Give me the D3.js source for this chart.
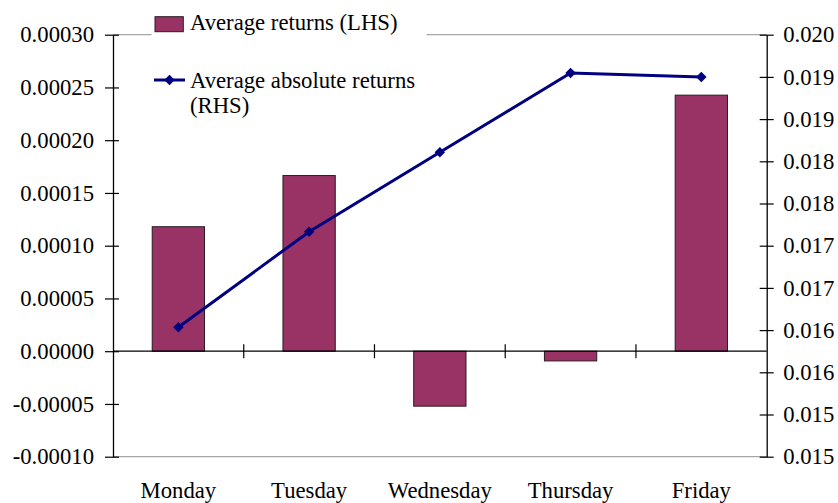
<!DOCTYPE html>
<html>
<head>
<meta charset="utf-8">
<script src="https://cdn.jsdelivr.net/npm/d3@7"></script>
<style>
  html, body { margin: 0; padding: 0; background: #fff; }
  svg { display: block; }
  text { font-family: "Liberation Serif", "Times New Roman", serif; fill: #000; }
</style>
</head>
<body>
<svg id="chart" width="838" height="503"></svg>
<script>
// ---- Data ----
const categories = ["Monday", "Tuesday", "Wednesday", "Thursday", "Friday"];
const avgReturns = [0.000118, 0.0001665, -0.0000521, -0.0000092, 0.0002427];
const avgAbsReturns = [0.016533, 0.017666, 0.018607, 0.019546, 0.019499];
const leftTicks = [-0.0001, -0.00005, 0, 0.00005, 0.0001, 0.00015, 0.0002, 0.00025, 0.0003];
const leftTickLabels = ["-0.00010", "-0.00005", "0.00000", "0.00005", "0.00010", "0.00015", "0.00020", "0.00025", "0.00030"];
const rightTicks = [0.015, 0.0155, 0.016, 0.0165, 0.017, 0.0175, 0.018, 0.0185, 0.019, 0.0195, 0.020];
const rightTickLabels = ["0.015", "0.015", "0.016", "0.016", "0.017", "0.017", "0.018", "0.018", "0.019", "0.019", "0.020"];
const legendLabels = ["Average returns (LHS)", ["Average absolute returns", "(RHS)"]];

// ---- Layout ----
const W = 838, H = 503;
const plot = { left: 113, right: 766.7, top: 34.7, bottom: 456.7 };
const fontSize = 22.7;
const barColor = "#993366";
const lineColor = "#000080";

const svg = d3.select("#chart");

const x = d3.scaleBand().domain(categories).range([plot.left, plot.right]).paddingInner(0.6).paddingOuter(0.3);
const xCat = d3.scaleBand().domain(categories).range([plot.left, plot.right]).padding(0);
const yL = d3.scaleLinear().domain([-0.0001, 0.0003]).range([plot.bottom, plot.top]);
const yR = d3.scaleLinear().domain([0.015, 0.020]).range([plot.bottom, plot.top]);

// plot area border (top/bottom grey)
svg.append("line").attr("x1", plot.left).attr("x2", plot.right).attr("y1", plot.top).attr("y2", plot.top)
  .attr("stroke", "#a6a6a6").attr("stroke-width", 1.2);
svg.append("line").attr("x1", plot.left).attr("x2", plot.right).attr("y1", plot.bottom).attr("y2", plot.bottom)
  .attr("stroke", "#a6a6a6").attr("stroke-width", 1.2);

// bars
svg.append("g").selectAll("rect").data(categories).join("rect")
  .attr("x", d => x(d))
  .attr("width", x.bandwidth())
  .attr("y", (d, i) => yL(Math.max(0, avgReturns[i])))
  .attr("height", (d, i) => Math.abs(yL(avgReturns[i]) - yL(0)))
  .attr("fill", barColor)
  .attr("stroke", "#2a1a20")
  .attr("stroke-width", 1);

// zero line with category ticks
svg.append("line").attr("x1", plot.left).attr("x2", plot.right).attr("y1", yL(0)).attr("y2", yL(0))
  .attr("stroke", "#000").attr("stroke-width", 1.3);
svg.append("g").selectAll("line").data(categories.slice(1)).join("line")
  .attr("x1", d => xCat(d)).attr("x2", d => xCat(d))
  .attr("y1", yL(0) - 7).attr("y2", yL(0) + 7)
  .attr("stroke", "#000").attr("stroke-width", 1.2);

// category labels
svg.append("g").selectAll("text").data(categories).join("text")
  .attr("x", d => x(d) + x.bandwidth() / 2)
  .attr("y", 498.3)
  .attr("text-anchor", "middle")
  .attr("font-size", fontSize)
  .text(d => d);

// left axis
const gL = svg.append("g").attr("transform", `translate(${plot.left},0)`)
  .call(d3.axisLeft(yL).tickValues(leftTicks).tickFormat((d, i) => leftTickLabels[i]).tickSizeOuter(0).tickSizeInner(8).tickPadding(11));
gL.select(".domain").attr("stroke", "#000").attr("stroke-width", 1.3);
gL.selectAll(".tick line").attr("x1", -8).attr("x2", 6).attr("stroke", "#000").attr("stroke-width", 1.2);
gL.selectAll(".tick text").attr("font-size", fontSize).attr("font-family", "Liberation Serif, Times New Roman, serif").attr("fill", "#000");

// right axis
const gR = svg.append("g").attr("transform", `translate(${plot.right},0)`)
  .call(d3.axisRight(yR).tickValues(rightTicks).tickFormat((d, i) => rightTickLabels[i]).tickSizeOuter(0).tickSizeInner(7).tickPadding(9.5));
gR.select(".domain").attr("stroke", "#000").attr("stroke-width", 1.3);
gR.selectAll(".tick line").attr("x1", -7).attr("x2", 7).attr("stroke", "#000").attr("stroke-width", 1.2);
gR.selectAll(".tick text").attr("font-size", fontSize).attr("font-family", "Liberation Serif, Times New Roman, serif").attr("fill", "#000");

// line series
const lineGen = d3.line().x((d, i) => x(categories[i]) + x.bandwidth() / 2).y(d => yR(d));
svg.append("path").datum(avgAbsReturns)
  .attr("d", lineGen).attr("fill", "none").attr("stroke", lineColor).attr("stroke-width", 3);
const diamond = d3.symbol().type(d3.symbolDiamond2).size(70);
svg.append("g").selectAll("path").data(avgAbsReturns).join("path")
  .attr("transform", (d, i) => `translate(${x(categories[i]) + x.bandwidth() / 2},${yR(d)})`)
  .attr("d", diamond).attr("fill", lineColor);

// legend
const lg = svg.append("g");
lg.append("rect").attr("x", 151.5).attr("y", 0).attr("width", 275).attr("height", 124).attr("fill", "#fff");
lg.append("rect").attr("x", 155).attr("y", 16.7).attr("width", 28.3).attr("height", 15)
  .attr("fill", barColor).attr("stroke", "#2a1a20").attr("stroke-width", 1);
lg.append("text").attr("x", 190).attr("y", 29.5).attr("font-size", fontSize).text(legendLabels[0]);
lg.append("line").attr("x1", 154).attr("x2", 185).attr("y1", 80).attr("y2", 80)
  .attr("stroke", lineColor).attr("stroke-width", 3);
lg.append("path").attr("transform", "translate(169.5,80)").attr("d", diamond).attr("fill", lineColor);
const t2 = lg.append("text").attr("x", 190).attr("y", 88).attr("font-size", fontSize);
t2.append("tspan").attr("x", 190).attr("y", 88).text(legendLabels[1][0]);
t2.append("tspan").attr("x", 190).attr("y", 113).text(legendLabels[1][1]);
</script>
</body>
</html>
